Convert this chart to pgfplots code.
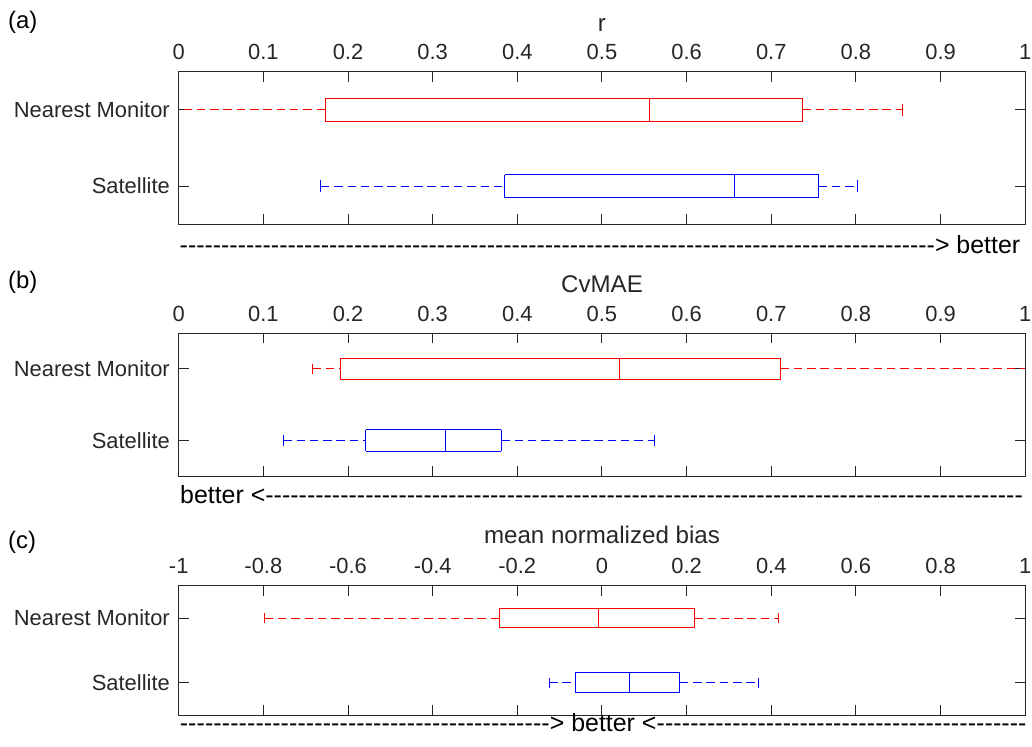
\documentclass[border=0pt]{standalone}
\usepackage{pgfplots}
\pgfplotsset{compat=1.18}
\usepackage{fontspec}
\setmainfont{Liberation Sans}
\definecolor{axgray}{RGB}{38,38,38}
\definecolor{mblue}{RGB}{0,0,255}
\definecolor{mred}{RGB}{255,0,0}

\pgfplotsset{
  panel/.style={
    scale only axis, width=846.5bp,
    ymin=0.5, ymax=2.5, y dir=reverse,
    ytick={1,2}, yticklabels={Nearest Monitor,Satellite},
    xticklabel pos=right, tick align=inside,
    major tick length=10bp,
    axis line style={draw=axgray, line width=1bp},
    every tick/.style={draw=axgray, line width=1bp},
    tick label style={font=\fontsize{22}{26}\selectfont, text=axgray},
    xticklabel style={anchor=base, yshift=11.8bp, inner sep=0pt},
    yticklabel style={anchor=east, inner sep=0pt, xshift=-8.7bp},
    /pgf/number format/assume math mode=true,
    unbounded coords=jump,
    clip=true,
  },
  bx/.style={solid, line width=1bp, mark=none},
  wh/.style={line width=1bp, mark=none, dash pattern=on 8.5bp off 4.8bp},
}

\begin{document}
\begin{tikzpicture}
\path[use as bounding box] (0,0) rectangle (1032bp,-747bp);

% ---------- (a) r ----------
\begin{axis}[panel, at={(178.7bp,-71.7bp)}, anchor=north west, height=152.6bp,
  xmin=0, xmax=1, xtick={0,0.1,0.2,0.3,0.4,0.5,0.6,0.7,0.8,0.9,1}]
\addplot[draw=mred, wh] coordinates {(-0.01,1) (0.173,1) (0.5,nan) (0.737,1) (0.855,1)};
\addplot[draw=mred, bx] coordinates {(-0.01,0.925) (-0.01,1.075) (0.5,nan) (0.855,0.925) (0.855,1.075)};
\addplot[draw=mred, bx] coordinates {(0.173,0.85) (0.737,0.85) (0.737,1.15) (0.173,1.15) (0.173,0.85) (0.556,nan) (0.556,0.85) (0.556,1.15)};
\addplot[draw=mblue, wh] coordinates {(0.168,2) (0.385,2) (0.5,nan) (0.756,2) (0.802,2)};
\addplot[draw=mblue, bx] coordinates {(0.168,1.925) (0.168,2.075) (0.5,nan) (0.802,1.925) (0.802,2.075)};
\addplot[draw=mblue, bx] coordinates {(0.385,1.85) (0.756,1.85) (0.756,2.15) (0.385,2.15) (0.385,1.85) (0.656,nan) (0.656,1.85) (0.656,2.15)};
\end{axis}

% ---------- (b) CvMAE ----------
\begin{axis}[panel, at={(178.7bp,-333.3bp)}, anchor=north west, height=142.7bp,
  xmin=0, xmax=1, xtick={0,0.1,0.2,0.3,0.4,0.5,0.6,0.7,0.8,0.9,1}]
\addplot[draw=mred, wh] coordinates {(0.158,1) (0.191,1) (0.5,nan) (0.711,1) (1.01,1)};
\addplot[draw=mred, bx] coordinates {(0.158,0.925) (0.158,1.075) (0.5,nan) (1.01,0.925) (1.01,1.075)};
\addplot[draw=mred, bx] coordinates {(0.191,0.85) (0.711,0.85) (0.711,1.15) (0.191,1.15) (0.191,0.85) (0.521,nan) (0.521,0.85) (0.521,1.15)};
\addplot[draw=mblue, wh] coordinates {(0.1235,2) (0.221,2) (0.3,nan) (0.381,2) (0.562,2)};
\addplot[draw=mblue, bx] coordinates {(0.1235,1.925) (0.1235,2.075) (0.3,nan) (0.562,1.925) (0.562,2.075)};
% Satellite box drawn edge by edge
\addplot[draw=mblue, bx] coordinates {(0.221,1.85) (0.381,1.85)};
\addplot[draw=mblue, bx] coordinates {(0.221,2.15) (0.381,2.15)};
\addplot[draw=mblue, bx] coordinates {(0.221,1.85) (0.221,2.15)};
\addplot[draw=mblue, bx] coordinates {(0.381,1.85) (0.381,2.15)};
\addplot[draw=mblue, bx] coordinates {(0.315,1.85) (0.315,2.15)};
\end{axis}

% ---------- (c) mean normalized bias ----------
\begin{axis}[panel, at={(178.7bp,-585.7bp)}, anchor=north west, height=129.3bp,
  xmin=-1, xmax=1, xtick={-1,-0.8,-0.6,-0.4,-0.2,0,0.2,0.4,0.6,0.8,1}]
\addplot[draw=mred, wh] coordinates {(-0.797,1) (-0.242,1) (0,nan) (0.218,1) (0.416,1)};
\addplot[draw=mred, bx] coordinates {(-0.797,0.925) (-0.797,1.075) (0,nan) (0.416,0.925) (0.416,1.075)};
\addplot[draw=mred, bx] coordinates {(-0.242,0.85) (0.218,0.85) (0.218,1.15) (-0.242,1.15) (-0.242,0.85) (-0.0075,nan) (-0.0075,0.85) (-0.0075,1.15)};
\addplot[draw=mblue, wh] coordinates {(-0.125,2) (-0.063,2) (0,nan) (0.184,2) (0.370,2)};
\addplot[draw=mblue, bx] coordinates {(-0.125,1.925) (-0.125,2.075) (0,nan) (0.370,1.925) (0.370,2.075)};
\addplot[draw=mblue, bx] coordinates {(-0.063,1.85) (0.184,1.85) (0.184,2.15) (-0.063,2.15) (-0.063,1.85) (0.066,nan) (0.066,1.85) (0.066,2.15)};
\end{axis}

% panel letters
\node[anchor=base west, inner sep=0pt, font=\fontsize{24}{29}\selectfont] at (8bp,-28.3bp) {(a)};
\node[anchor=base west, inner sep=0pt, font=\fontsize{24}{29}\selectfont] at (8bp,-288bp) {(b)};
\node[anchor=base west, inner sep=0pt, font=\fontsize{24}{29}\selectfont] at (8bp,-548bp) {(c)};

% titles
\node[anchor=base, inner sep=0pt, font=\fontsize{24.2}{29}\selectfont, text=axgray] at (602bp,-31.7bp) {r};
\node[anchor=base, inner sep=0pt, font=\fontsize{24.2}{29}\selectfont, text=axgray] at (602bp,-292bp) {CvMAE};
\node[anchor=base, inner sep=0pt, font=\fontsize{24.2}{29}\selectfont, text=axgray] at (602bp,-543.3bp) {mean normalized bias};

% "better" annotations
\node[anchor=base west, inner sep=0pt, font=\fontsize{25}{30}\selectfont] at (179.5bp,-253.3bp)
  {\hbox to 840.5bp{\xleaders\hbox{-}\hfill> better}};
\node[anchor=base west, inner sep=0pt, font=\fontsize{25}{30}\selectfont] at (180bp,-503.3bp)
  {\hbox to 842.7bp{better <\xleaders\hbox{-}\hfill}};
\node[anchor=base west, inner sep=0pt, font=\fontsize{25}{30}\selectfont] at (179.5bp,-731.7bp)
  {\hbox to 847bp{\xleaders\hbox{-}\hfill> better <\xleaders\hbox{-}\hfill}};
\end{tikzpicture}
\end{document}
